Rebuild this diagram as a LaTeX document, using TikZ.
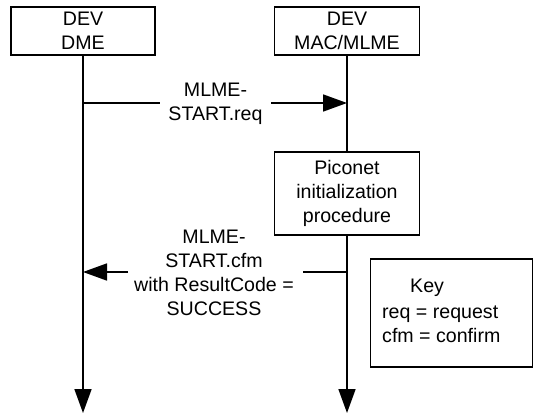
\documentclass[tikz,border=0pt]{standalone}
\usepackage{fontspec}
\setmainfont{Liberation Sans}
\usetikzlibrary{arrows.meta}
\begin{document}
\begin{tikzpicture}[x=1pt,y=-1pt,
  every node/.style={font=\fontsize{19.6}{23.8}\selectfont},
  box/.style={draw,line width=1.5pt,align=center,inner sep=0pt},
  line/.style={line width=1.7pt},
  arr/.style={line width=1.7pt,-{Triangle[length=24pt,width=17pt]}},
  lbl/.style={align=center,inner sep=0pt}]
\useasboundingbox (0,0) rectangle (534,417);
\node[box,minimum width=144pt,minimum height=48pt] (dme) at (83,31) {DEV\\DME};
\node[box,minimum width=145pt,minimum height=48pt] (mac) at (347,31) {DEV\\MAC/MLME};
\node[box,minimum width=145pt,minimum height=83pt] (pico) at (347,193.5) {Piconet\\initialization\\procedure};
\node[box,minimum width=162pt,minimum height=108pt] (key) at (451.5,313) {};
\node[anchor=base west,inner sep=0pt] (k1) at (410,292) {Key};
\node[anchor=base west,inner sep=0pt] (k2) at (382,318) {req = request};
\node[anchor=base west,inner sep=0pt] (k3) at (382,342) {cfm = confirm};
\coordinate (dmeend) at (83,413);
\coordinate (macend) at (347,413);
\coordinate (reqs) at (83,103);
\coordinate (reqa) at (160,103);
\coordinate (reqb) at (271,103);
\coordinate (reqe) at (347,103);
\coordinate (cfms) at (347,272);
\coordinate (cfma) at (303,272);
\coordinate (cfmb) at (128,272);
\coordinate (cfme) at (83,272);
\draw[arr] (dme.south) -- (dmeend);
\draw[line] (mac.south) -- (pico.north);
\draw[arr] (pico.south) -- (macend);
\draw[line] (reqs) -- (reqa);
\draw[arr] (reqb) -- (reqe);
\node[lbl] (reqlbl) at (215.5,104) {MLME-\\START.req};
\draw[line] (cfms) -- (cfma);
\draw[arr] (cfmb) -- (cfme);
\node[lbl] (cfmlbl) at (214,273) {MLME-\\START.cfm\\with ResultCode =\\SUCCESS};
\end{tikzpicture}
\end{document}
